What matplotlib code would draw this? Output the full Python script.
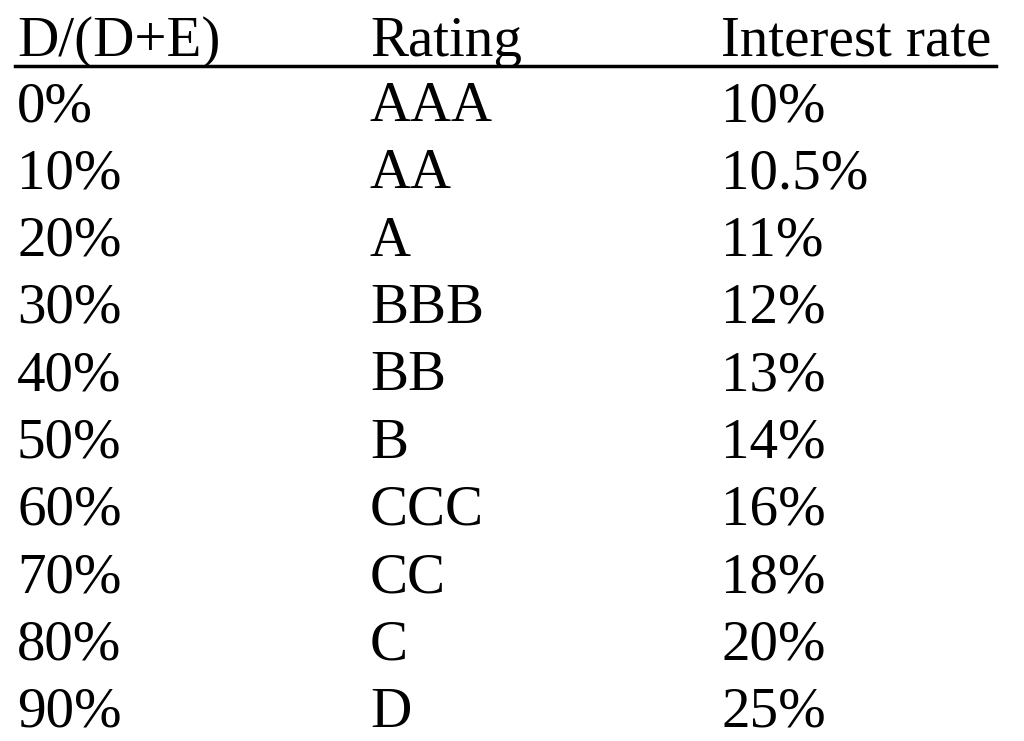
import matplotlib
matplotlib.use("Agg")
import matplotlib.pyplot as plt

headers = ["D/(D+E)", "Rating", "Interest rate"]
debt_ratio = ["0%", "10%", "20%", "30%", "40%", "50%", "60%", "70%", "80%", "90%"]
rating = ["AAA", "AA", "A", "BBB", "BB", "B", "CCC", "CC", "C", "D"]
interest = ["10%", "10.5%", "11%", "12%", "13%", "14%", "16%", "18%", "20%", "25%"]

W, H = 1024, 741
fig = plt.figure(figsize=(W/100, H/100), dpi=100)
ax = fig.add_axes([0, 0, 1, 1])
ax.set_xlim(0, W)
ax.set_ylim(H, 0)
ax.axis("off")

font = dict(family="Liberation Serif", fontsize=41, color="black", va="baseline", ha="left")
colx = [17, 370, 721]
for x, h in zip(colx, headers):
    ax.text(x, 56, h, **font)
ax.plot([15, 996], [66, 66], color="black", lw=2.5)
for i, cols in enumerate(zip(debt_ratio, rating, interest)):
    y = 121 + i * 67.3
    for x, t in zip(colx, cols):
        ax.text(x, y, t, **font)

fig.savefig("out.png", dpi=100)
